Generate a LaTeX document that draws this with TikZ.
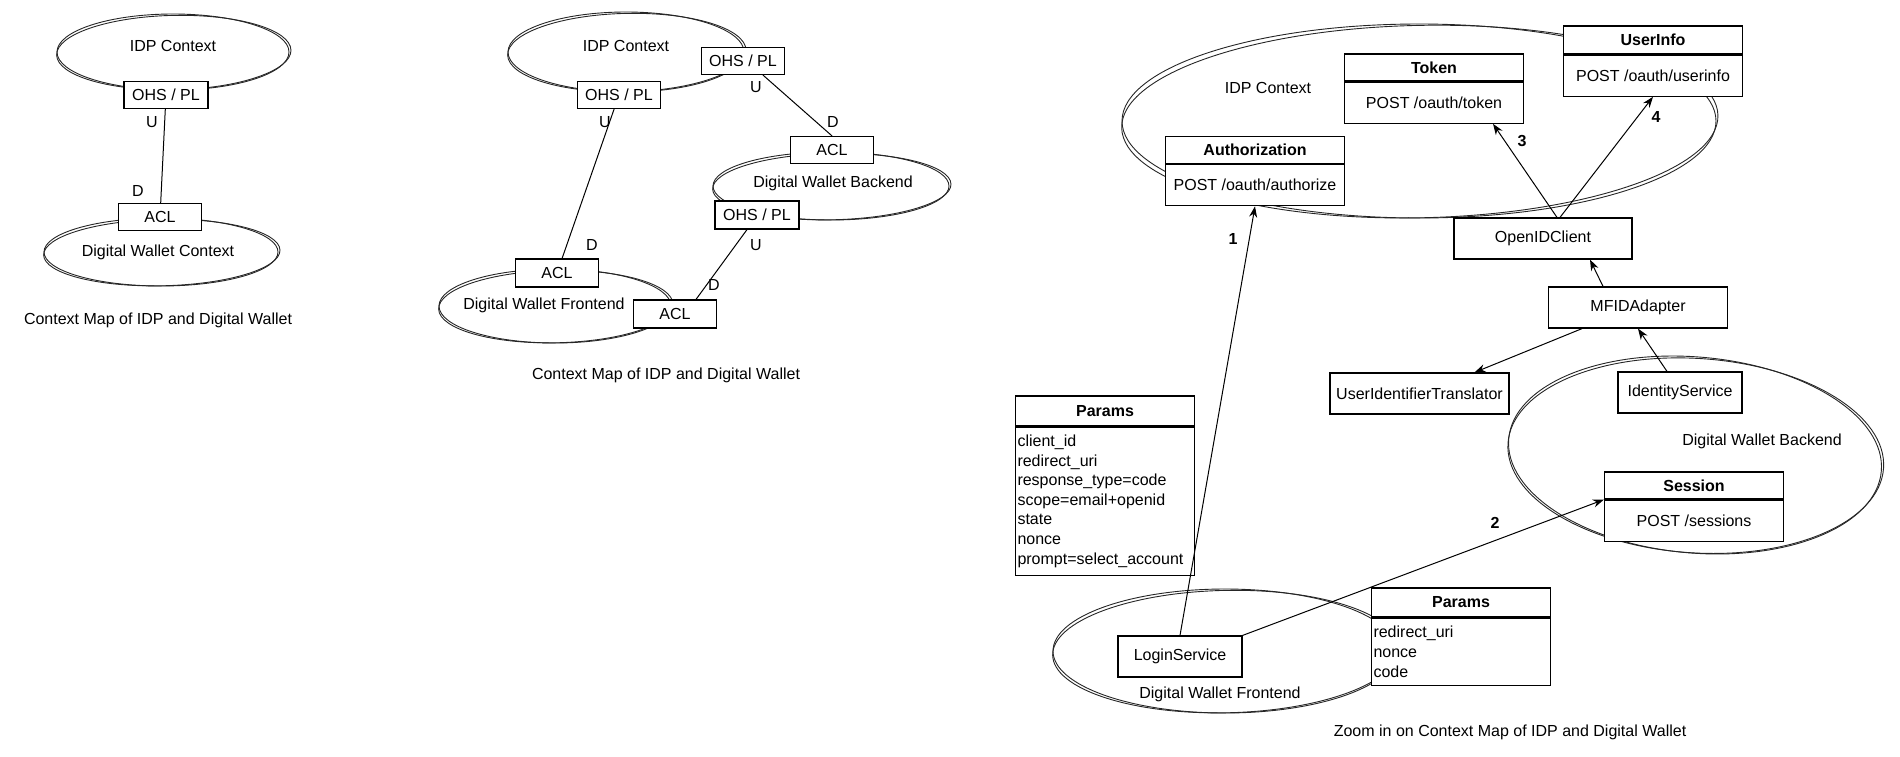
\documentclass[tikz,border=0pt]{standalone}
\usepackage{fontspec}
\setmainfont{Liberation Sans}
\usetikzlibrary{positioning,arrows.meta}

\newcommand{\dgfont}{\fontsize{8}{9.8}\selectfont}
% hand drawn context: centre, x radius, y radius (px), tilt
\newcommand{\roughell}[4]{%
  \draw[sketch, rotate around={#4:#1}] #1 ellipse [x radius=#2*0.5pt, y radius=#3*0.5pt];
  \draw[sketch, rotate around={#4+1.2:#1}] #1 ++(0.8,0.6) ellipse [x radius=#2*0.5pt+0.6pt, y radius=#3*0.5pt-0.4pt];
}

\tikzset{
  sketch/.style={line width=0.45pt, black!85},
  lbl/.style={font=\dgfont},
  num/.style={font=\dgfont\bfseries},
  rel/.style={draw, fill=white, line width=0.6pt, minimum width=41.5pt, minimum height=13.5pt, inner sep=0pt, font=\dgfont},
  comp/.style={draw, fill=white, line width=0.6pt, minimum height=20.5pt, inner sep=0pt, font=\dgfont},
  headbox/.style={draw, fill=white, line width=0.6pt, minimum width=89.5pt, minimum height=13.5pt, inner sep=0pt, font=\dgfont\bfseries},
  bodybox/.style={draw, fill=white, line width=0.6pt, minimum width=89.5pt, minimum height=20.5pt, inner sep=0pt, font=\dgfont},
  listbox/.style={draw, fill=white, line width=0.6pt, text width=87.5pt, inner xsep=1pt, inner ysep=3pt, align=left, font=\dgfont},
  link/.style={line width=0.5pt},
  flow/.style={line width=0.5pt, -{Stealth[length=5.5pt,width=4pt]}}
}

\begin{document}
\begin{tikzpicture}[x=0.5pt, y=-0.5pt]
  \useasboundingbox (0,0) rectangle (1900,756);

  % first map
  \roughell{(173,52)}{116}{38}{0}
  \roughell{(161,252)}{117}{34}{0}
  \node[lbl] (idp1) at (173,46) {IDP Context};
  \node[lbl] (dwc1) at (158,252) {Digital Wallet Context};
  \node[rel, minimum width=42pt] (ohs1) at (166,95) {OHS / PL};
  \node[rel] (acl1) at (160,217) {ACL};
  \draw[link] (ohs1) -- (acl1);
  \node[lbl] (u1) at (152,122) {U};
  \node[lbl] (d1) at (138,191) {D};
  \node[lbl] (cap1) at (158,320) {Context Map of IDP and Digital Wallet};

  % second map, wallet split in two
  \roughell{(626,52)}{118}{40}{0}
  \roughell{(831,186)}{118}{34}{0}
  \roughell{(555,306)}{116}{37}{0}
  \node[lbl] (idp2) at (626,46) {IDP Context};
  \node[lbl] (back2) at (833,183) {Digital Wallet Backend};
  \node[lbl] (front2) at (544,305) {Digital Wallet Frontend};
  \node[rel] (ohs2a) at (743,61) {OHS / PL};
  \node[rel] (ohs2b) at (619,95) {OHS / PL};
  \node[rel] (acl2b) at (832,150) {ACL};
  \node[rel, minimum width=42pt, minimum height=14pt] (ohs2c) at (757,215) {OHS / PL};
  \node[rel, minimum height=14pt] (acl2f) at (557,273) {ACL};
  \node[rel, minimum height=14pt] (acl2g) at (675,314) {ACL};
  \draw[link] (ohs2b) -- (acl2f);
  \draw[link] ([xshift=10pt]ohs2a.south) -- (acl2b.north);
  \draw[link] ([xshift=-5pt]ohs2c.south) -- ([xshift=10.5pt]acl2g.north);
  \node[lbl] (u2a) at (605,122) {U};
  \node[lbl] (d2a) at (592,245) {D};
  \node[lbl] (u2b) at (756,87) {U};
  \node[lbl] (d2b) at (833,122) {D};
  \node[lbl] (u2c) at (756,245) {U};
  \node[lbl] (d2c) at (714,285) {D};
  \node[lbl] (cap2) at (666,375) {Context Map of IDP and Digital Wallet};

  % zoomed map
  \roughell{(1419,121)}{297}{97}{0}
  \roughell{(1695,455)}{187}{98}{-5}
  \roughell{(1225,651)}{172}{62}{0}
  \node[lbl] (idp3) at (1268,88) {IDP Context};
  \node[lbl] (back3) at (1762,441) {Digital Wallet Backend};
  \node[lbl] (front3) at (1220,694) {Digital Wallet Frontend};

  % endpoints
  \node[headbox] (authH) at (1255,150) {Authorization};
  \node[bodybox, below=0pt of authH] (authB) {POST /oauth/authorize};
  \node[headbox] (tokH) at (1434,67.5) {Token};
  \node[bodybox, below=0pt of tokH] (tokB) {POST /oauth/token};
  \node[headbox, minimum height=14pt] (uinfoH) at (1653,40) {UserInfo};
  \node[bodybox, below=0pt of uinfoH] (uinfoB) {POST /oauth/userinfo};
  \node[headbox] (sesH) at (1694,485.5) {Session};
  \node[bodybox, below=0pt of sesH] (sesB) {POST /sessions};

  % request params
  \node[headbox, minimum height=15pt] (parH) at (1105,411) {Params};
  \node[listbox, below=0pt of parH, minimum height=74pt] (parB)
    {client\_id\\redirect\_uri\\response\_type=code\\scope=email+openid\\state\\nonce\\prompt=select\_account};
  \node[headbox, minimum height=14.5pt] (par2H) at (1461,602.5) {Params};
  \node[listbox, below=0pt of par2H, minimum height=33.5pt] (par2B)
    {redirect\_uri\\nonce\\code};

  % components
  \node[comp, minimum width=89pt] (oidc) at (1543,238.5) {OpenIDClient};
  \node[comp, minimum width=89.5pt] (mfid) at (1638,307.5) {MFIDAdapter};
  \node[comp, minimum width=89.5pt] (uit) at (1419.5,393.5) {UserIdentifierTranslator};
  \node[comp, minimum width=62pt] (idsv) at (1680,392.5) {IdentityService};
  \node[comp, minimum width=62pt] (login) at (1180,656.5) {LoginService};

  \draw[flow] (login.north) -- (authB.south);
  \draw[flow] (login.north east) -- (sesH.south west);
  \draw[flow] ([xshift=7pt]oidc.north) -- ([xshift=29.5pt]tokB.south);
  \draw[flow] ([xshift=8.5pt]oidc.north) -- (uinfoB.south);
  \draw[flow] ([xshift=-17.5pt]mfid.north) -- ([xshift=23.5pt]oidc.south);
  \draw[flow] ([xshift=-28pt]mfid.south) -- ([xshift=27.5pt]uit.north);
  \draw[flow] ([xshift=-6.5pt]idsv.north) -- (mfid.south);
  \node[num] (n1) at (1233,239) {1};
  \node[num] (n2) at (1495,523) {2};
  \node[num] (n3) at (1522,141) {3};
  \node[num] (n4) at (1656,117) {4};
  \node[lbl] (cap3) at (1510,732) {Zoom in on Context Map of IDP and Digital Wallet};
\end{tikzpicture}
\end{document}
